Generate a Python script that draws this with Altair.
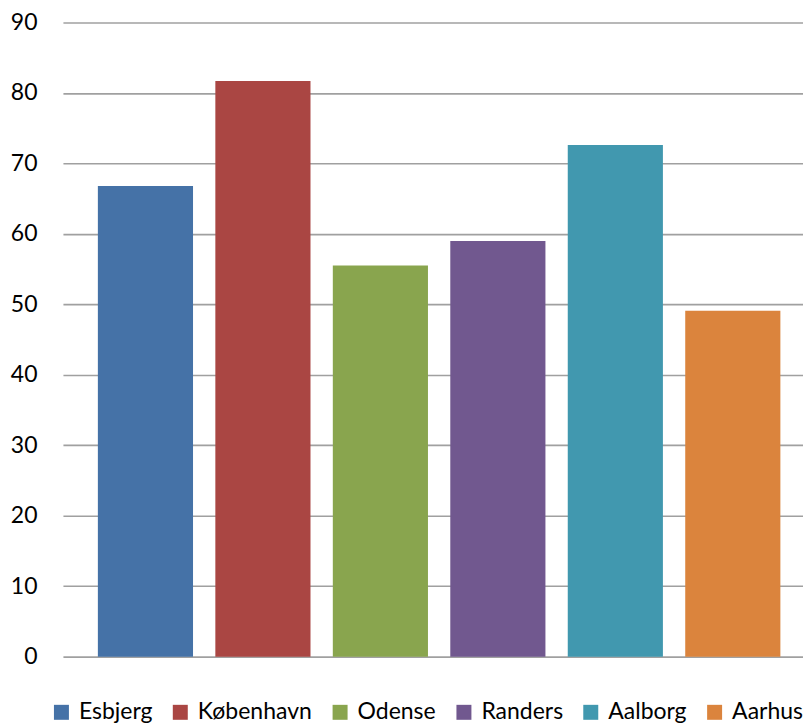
import altair as alt
import pandas as pd

cities = ["Esbjerg", "København", "Odense", "Randers", "Aalborg", "Aarhus"]
values = [66.8, 81.7, 55.5, 59.0, 72.6, 49.1]
colors = ["#4572A7", "#AA4643", "#89A54E", "#71588F", "#4198AF", "#DB843D"]

df = pd.DataFrame({"city": cities, "value": values})

chart = alt.Chart(df).mark_bar().encode(
    x=alt.X("city:N", sort=cities, axis=None,
            scale=alt.Scale(paddingInner=0.19, paddingOuter=0.245, align=0.607)),
    y=alt.Y("value:Q", scale=alt.Scale(domain=[0, 90], nice=False),
            axis=alt.Axis(values=list(range(0, 100, 10)), title=None, domain=False,
                          ticks=False, tickSize=0, labelPadding=26, labelFont="Lato",
                          labelFontSize=23, labelColor="#000000", grid=True,
                          gridColor="#a0a0a0", gridWidth=1.6)),
    color=alt.Color("city:N", sort=cities,
                    scale=alt.Scale(domain=cities, range=colors),
                    legend=alt.Legend(title=None, orient="none", direction="horizontal",
                                      columns=6, legendX=-13, legendY=679,
                                      symbolType="square", symbolSize=225,
                                      symbolStrokeWidth=0, labelFont="Lato",
                                      labelFontSize=23, labelColor="#000000",
                                      labelOffset=6, columnPadding=16, padding=0,
                                      labelLimit=300)),
).properties(
    width=741, height=635,
    padding={"left": 2, "top": 3, "right": 0, "bottom": 0},
).configure_view(stroke=None)

chart.save("out.html", embed_options={"renderer": "svg", "actions": False})
